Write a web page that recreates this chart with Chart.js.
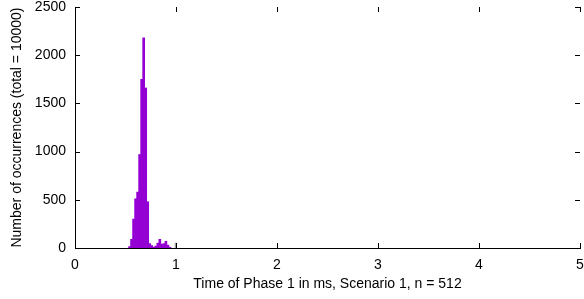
<!DOCTYPE html>
<html>
<head>
<meta charset="utf-8">
<script src="https://cdn.jsdelivr.net/npm/chart.js@4"></script>
<style>
  html, body { margin: 0; padding: 0; background: #fff; }
  canvas { display: block; }
</style>
</head>
<body>
<canvas id="chartContainer" width="584" height="299"></canvas>
<script>
// histogram bins (bin centre in ms) and counts
var binCenters = [0.54, 0.56, 0.58, 0.60, 0.62, 0.64, 0.66, 0.68, 0.70, 0.72, 0.74,
                  0.76, 0.78, 0.80, 0.82, 0.84, 0.86, 0.88, 0.90, 0.92, 0.94]
var counts = [15, 90, 300, 510, 580, 970, 1750, 2180, 1660, 480, 45,
              25, 8, 20, 50, 90, 40, 45, 70, 30, 8]
// the small grey bar near 1 ms
var extraBin = [0.995]
var extraCount = [55]

var xTicks = [0, 1, 2, 3, 4, 5]
var yTicks = [0, 500, 1000, 1500, 2000, 2500]

var mainData = []
for (var i = 0; i < binCenters.length; i++) {
  mainData.push({x: binCenters[i], y: counts[i]})
}
var greyData = []
for (var i = 0; i < extraBin.length; i++) {
  greyData.push({x: extraBin[i], y: extraCount[i]})
}

var font = {family: "'Liberation Sans', Arial, sans-serif", size: 14, lineHeight: 1}

// gnuplot style inward ticks on all four sides
var tickMarks = {
  id: 'tickMarks',
  afterDraw: function(chart) {
    var ctx = chart.ctx
    var a = chart.chartArea
    var xs = chart.scales.x, ys = chart.scales.y
    ctx.save()
    ctx.strokeStyle = '#000'
    ctx.lineWidth = 1
    ctx.beginPath()
    xTicks.forEach(function(v) {
      var px = Math.round(xs.getPixelForValue(v)) + 0.5
      ctx.moveTo(px, a.bottom); ctx.lineTo(px, a.bottom - 5)
      ctx.moveTo(px, a.top); ctx.lineTo(px, a.top + 5)
    })
    yTicks.forEach(function(v) {
      var py = Math.round(ys.getPixelForValue(v)) + 0.5
      ctx.moveTo(a.left, py); ctx.lineTo(a.left + 5, py)
      ctx.moveTo(a.right, py); ctx.lineTo(a.right - 5, py)
    })
    ctx.stroke()
    ctx.restore()
  }
}

var chart = new Chart(document.getElementById('chartContainer'), {
  type: 'bar',
  data: {
    datasets: [{
      data: mainData,
      backgroundColor: '#9400d3',
      borderWidth: 0,
      barPercentage: 1,
      categoryPercentage: 1
    },
    {
      data: greyData,
      backgroundColor: '#a0a0a0',
      borderWidth: 0,
      barPercentage: 0.8,
      categoryPercentage: 1
    }]
  },
  options: {
    responsive: false,
    animation: false,
    devicePixelRatio: 1,
    grouped: false,
    layout: {padding: {top: 7, right: 4, bottom: 0, left: 0}},
    plugins: {legend: {display: false}, tooltip: {enabled: false}},
    scales: {
      x: {
        type: 'linear',
        min: 0, max: 5,
        offset: false,
        grid: {display: false, drawTicks: false},
        border: {display: true, color: '#000', width: 1},
        ticks: {stepSize: 1, color: '#000', font: font, padding: 10, maxRotation: 0,
                callback: function(v) { return String(v) }},
        title: {display: true, text: 'Time of Phase 1 in ms, Scenario 1, n = 512',
                color: '#000', font: font, padding: {top: 0, bottom: 8}},
        afterFit: function(scale) {
          scale.height = 51
          scale.paddingLeft = 0
          scale.paddingRight = 0
        }
      },
      y: {
        min: 0, max: 2500,
        grid: {display: false, drawTicks: false},
        border: {display: true, color: '#000', width: 1},
        ticks: {stepSize: 500, color: '#000', font: font, padding: 9,
                callback: function(v) { return String(v) }},
        title: {display: true, text: 'Number of occurrences (total = 10000)',
                color: '#000', font: font, padding: {top: 10, bottom: 0}},
        afterFit: function(scale) {
          scale.width = 75
          scale.paddingTop = 0
          scale.paddingBottom = 0
        }
      }
    }
  },
  plugins: [tickMarks]
})
</script>
</body>
</html>
